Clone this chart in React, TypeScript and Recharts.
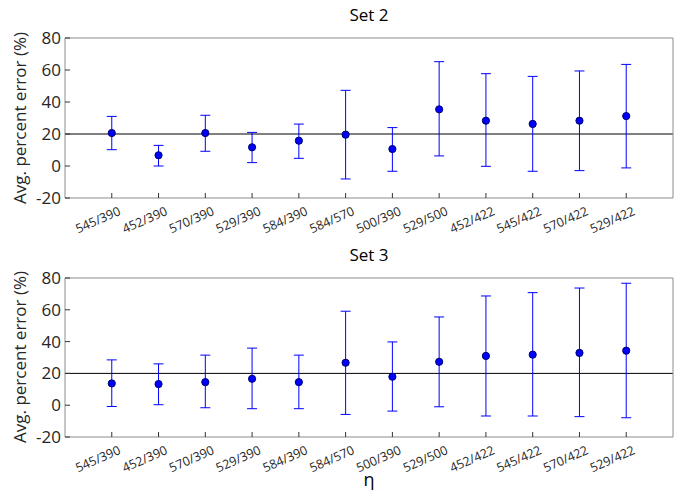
import { ScatterChart, Scatter, XAxis, YAxis, ErrorBar, ReferenceLine } from 'recharts'

const labels = ['545/390', '452/390', '570/390', '529/390', '584/390', '584/570', '500/390', '529/500', '452/422', '545/422', '570/422', '529/422']

const set2Mean = [20.6, 6.7, 20.6, 11.7, 15.8, 19.6, 10.6, 35.4, 28.3, 26.3, 28.3, 31.2]
const set2Low = [10.2, 0, 9.2, 2.1, 4.8, -8.1, -3.3, 6.3, -0.2, -3.3, -2.9, -1.2]
const set2High = [31, 12.9, 31.7, 21, 26.2, 47.3, 24, 65.2, 57.7, 56, 59.4, 63.5]

const set3Mean = [13.7, 13.3, 14.5, 16.6, 14.5, 26.7, 17.9, 27.3, 31, 31.8, 32.9, 34.3]
const set3Low = [-0.8, 0.3, -1.6, -2.2, -2.2, -5.8, -3.7, -1, -6.8, -6.8, -7.2, -7.9]
const set3High = [28.5, 26, 31.5, 35.9, 31.5, 59.1, 39.8, 55.5, 68.7, 70.8, 73.7, 76.7]

const yTicks = [-20, 0, 20, 40, 60, 80]
const xTicks = labels.map((_, i) => i + 1)

const FONT = '"Open Sans", sans-serif'

function buildRows(mean: number[], low: number[], high: number[]) {
  return labels.map((label, i) => ({
    x: i + 1,
    label,
    y: mean[i],
    err: [mean[i] - low[i], high[i] - mean[i]],
  }))
}

const XTick = ({ x, y, payload }: any) => (
  <g transform={`translate(${x + 6},${y})`}>
    <text textAnchor="end" dy="0.72em" transform="rotate(-24)" fontSize={12.5} fill="#262626" fontFamily={FONT}>
      {labels[payload.value - 1]}
    </text>
  </g>
)

const Dot = ({ cx, cy }: any) => <circle cx={cx} cy={cy} r={3.6} fill="#0000ff" stroke="#00006e" strokeWidth={1} />

function Panel({ rows, height, bottom }: { rows: any[]; height: number; bottom: number }) {
  return (
    <ScatterChart width={678} height={height} margin={{ top: 37, right: 4, left: 0, bottom }}>
      <XAxis
        type="number"
        dataKey="x"
        domain={[0, 13]}
        ticks={xTicks}
        interval={0}
        height={1}
        tickSize={-5}
        tickMargin={13}
        tick={<XTick />}
        axisLine={{ stroke: '#8c8c8c' }}
        tickLine={{ stroke: '#333' }}
      />
      <XAxis
        xAxisId="top"
        orientation="top"
        type="number"
        domain={[0, 13]}
        ticks={xTicks}
        interval={0}
        height={1}
        tickSize={-5}
        tick={false}
        axisLine={{ stroke: '#8c8c8c' }}
        tickLine={{ stroke: '#333' }}
      />
      <YAxis
        type="number"
        dataKey="y"
        domain={[-20, 80]}
        ticks={yTicks}
        interval={0}
        width={65}
        tickSize={-5}
        tickMargin={9}
        tick={{ fontSize: 17, fill: '#262626', fontFamily: FONT }}
        axisLine={{ stroke: '#8c8c8c' }}
        tickLine={{ stroke: '#333' }}
      />
      <YAxis
        yAxisId="r"
        orientation="right"
        type="number"
        domain={[-20, 80]}
        ticks={yTicks}
        interval={0}
        width={1}
        tickSize={-5}
        tick={false}
        axisLine={{ stroke: '#8c8c8c' }}
        tickLine={{ stroke: '#333' }}
      />
      <ReferenceLine y={20} stroke="#000" strokeWidth={1} />
      <Scatter data={rows} shape={<Dot />} isAnimationActive={false}>
        <ErrorBar dataKey="err" direction="y" width={5} stroke="#0000ff" strokeWidth={1} isAnimationActive={false} />
      </Scatter>
    </ScatterChart>
  )
}

export default function App() {
  const rows2 = buildRows(set2Mean, set2Low, set2High)
  const rows3 = buildRows(set3Mean, set3Low, set3High)

  return (
    <div style={{ position: 'absolute', left: 0, top: 0, width: 678, height: 495, background: '#fff', fontFamily: FONT }}>
      <div style={{ position: 'absolute', left: 0, top: 0 }}>
        <Panel rows={rows2} height={240} bottom={41} />
      </div>
      <div style={{ position: 'absolute', left: 0, top: 240 }}>
        <Panel rows={rows3} height={255} bottom={57} />
      </div>
      <svg width={678} height={495} style={{ position: 'absolute', left: 0, top: 0, pointerEvents: 'none' }}>
        <g fontFamily={FONT} fill="#000">
          <text x={369} y={21} textAnchor="middle" fontSize={17}>Set 2</text>
          <text x={369} y={261} textAnchor="middle" fontSize={17}>Set 3</text>
          <text transform="translate(26,118) rotate(-90)" textAnchor="middle" fontSize={17} fill="#262626">Avg. percent error (%)</text>
          <text transform="translate(26,357) rotate(-90)" textAnchor="middle" fontSize={17} fill="#262626">Avg. percent error (%)</text>
          <text x={369} y={486} textAnchor="middle" fontSize={18}>η</text>
        </g>
      </svg>
    </div>
  )
}
